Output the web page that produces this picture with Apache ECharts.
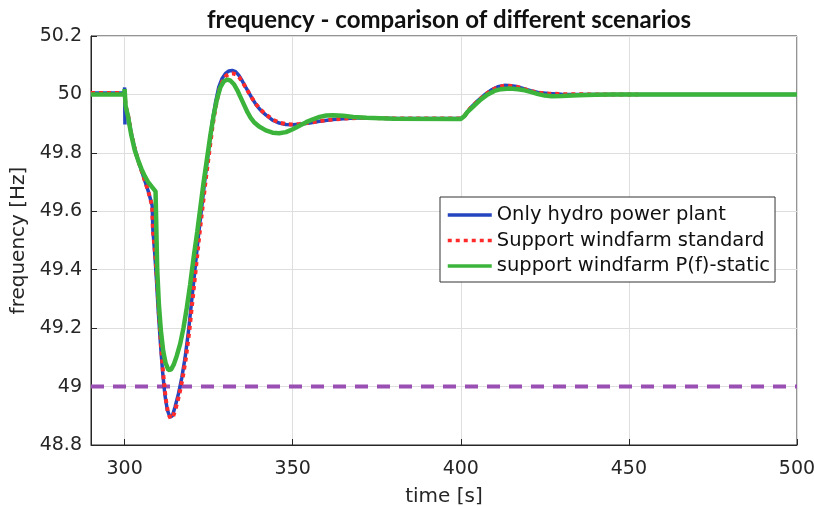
<!DOCTYPE html>
<html><head><meta charset="utf-8">
<script src="https://cdn.jsdelivr.net/npm/echarts@6/dist/echarts.min.js"></script>
<style>html,body{margin:0;padding:0;background:#fff}#c{width:814px;height:506px}</style>
</head><body><div id="c"></div>
<script>
const xTicks = [300, 350, 400, 450, 500];
const seriesNames = ['Only hydro power plant', 'Support windfarm standard', 'support windfarm P(f)-static'];

const hydroT = [290, 299.9, 300, 300.1, 300.2, 301, 302, 303, 304, 305, 306, 307, 308.2, 308.4, 309, 309.5, 310, 310.7, 311.3, 312, 312.7, 313.5, 314.2, 315, 316, 317, 318, 319, 320, 321, 322, 323, 324, 325, 326, 327, 328, 329, 330, 331, 332, 333, 334, 335, 336, 337, 338, 339, 340, 341, 342, 344, 346, 348, 350, 352, 355, 358, 362, 366, 370, 380, 400, 401, 402, 403, 405, 407, 409, 411, 413, 415, 417, 419, 421, 423, 426, 430, 440, 500];
const hydroF = [50.005, 50.005, 50.024, 49.897, 49.96, 49.93, 49.865, 49.815, 49.775, 49.74, 49.705, 49.67, 49.62, 49.537, 49.45, 49.36, 49.26, 49.14, 49.05, 48.97, 48.92, 48.895, 48.9, 48.93, 48.975, 49.03, 49.1, 49.19, 49.3, 49.41, 49.52, 49.62, 49.72, 49.81, 49.9, 49.97, 50.025, 50.055, 50.072, 50.08, 50.082, 50.078, 50.065, 50.046, 50.025, 50.005, 49.985, 49.967, 49.952, 49.94, 49.93, 49.912, 49.902, 49.897, 49.896, 49.898, 49.902, 49.908, 49.914, 49.918, 49.92, 49.918, 49.918, 49.925, 49.94, 49.955, 49.978, 49.998, 50.015, 50.026, 50.031, 50.03, 50.026, 50.019, 50.012, 50.007, 50.003, 50.001, 50.0, 50.0];

const standardT = [290, 300, 300.3, 301, 302, 303, 304, 305, 306, 307, 308.2, 308.4, 309.2, 309.7, 310.2, 310.9, 311.5, 312.2, 312.9, 313.7, 314.4, 315.2, 316.2, 317.2, 318.2, 319.2, 320.2, 321.2, 322.2, 323.2, 324.2, 325.2, 326.2, 327.2, 328.2, 329.2, 330.2, 331.2, 332.2, 333.2, 334.2, 335.2, 336.2, 337.2, 338.2, 339.2, 340.2, 341.2, 342.2, 344.2, 346.2, 348.2, 350.2, 352, 355, 358, 362, 366, 370, 380, 400, 401, 402, 403, 405, 407, 409, 411, 413, 415, 417, 419, 421, 423, 426, 430, 440, 452.7];
const standardF = [50.005, 50.005, 49.96, 49.93, 49.865, 49.815, 49.775, 49.74, 49.705, 49.67, 49.617, 49.537, 49.44, 49.35, 49.25, 49.13, 49.04, 48.96, 48.91, 48.89, 48.897, 48.925, 48.97, 49.025, 49.095, 49.185, 49.295, 49.405, 49.515, 49.615, 49.715, 49.805, 49.895, 49.965, 50.018, 50.048, 50.064, 50.071, 50.072, 50.068, 50.057, 50.04, 50.02, 50.0, 49.982, 49.965, 49.951, 49.94, 49.93, 49.913, 49.903, 49.898, 49.897, 49.899, 49.903, 49.909, 49.914, 49.918, 49.92, 49.918, 49.918, 49.925, 49.94, 49.955, 49.977, 49.997, 50.014, 50.025, 50.03, 50.029, 50.025, 50.018, 50.011, 50.006, 50.003, 50.001, 50.0, 50.0];

const staticT = [290, 299.9, 300, 300.3, 301, 302, 303, 304, 305, 306, 307, 308, 309.2, 309.4, 309.7, 310.2, 310.8, 311.5, 312.2, 313, 313.8, 314.6, 315.5, 316.5, 317.5, 318.5, 319.5, 320.5, 321.6, 322.5, 323.5, 324.5, 325.5, 326.5, 327.5, 328.5, 329.5, 330.6, 331.5, 332.5, 333.5, 334.5, 335.5, 336.5, 337.5, 338.5, 340, 342, 344, 346, 348, 350, 352, 354, 356, 358, 360, 362, 365, 368, 372, 380, 400, 401, 402, 404, 406, 408, 410, 412, 414.5, 417, 419, 421, 423, 425, 427, 430, 435, 440, 445, 500];
const staticF = [50.0, 50.0, 50.018, 49.96, 49.925, 49.86, 49.81, 49.775, 49.745, 49.72, 49.7, 49.685, 49.668, 49.56, 49.4, 49.28, 49.19, 49.12, 49.08, 49.057, 49.058, 49.075, 49.105, 49.145, 49.2, 49.27, 49.35, 49.44, 49.53, 49.61, 49.7, 49.78, 49.86, 49.93, 49.985, 50.025, 50.045, 50.051, 50.047, 50.035, 50.015, 49.99, 49.965, 49.94, 49.92, 49.905, 49.89, 49.877, 49.869, 49.867, 49.871, 49.881, 49.893, 49.905, 49.915, 49.923, 49.928, 49.929, 49.927, 49.923, 49.92, 49.917, 49.916, 49.925, 49.94, 49.962, 49.983, 50.0, 50.012, 50.018, 50.02, 50.018, 50.014, 50.008, 50.001, 49.996, 49.994, 49.995, 49.997, 49.999, 50.0, 50.0];

const limitValue = 49.0;

function pairs(t, f) { return t.map((x, i) => [x, f[i]]); }

const FONT = 'DejaVu Sans';
const chart = echarts.init(document.getElementById('c'), null, {renderer: 'canvas'});
chart.setOption({
  animation: false,
  backgroundColor: '#ffffff',
  title: {
    text: 'frequency - comparison of different scenarios',
    left: 444, textAlign: 'center', top: 3,
    textStyle: {fontFamily: 'Lato', fontSize: 24, fontWeight: 'bold', color: '#111'}
  },
  grid: {left: 91, right: 17, top: 36, bottom: 61, show: true, borderColor: '#262626', borderWidth: 1, backgroundColor: 'transparent',
    outerBoundsMode: 'none', containLabel: false},
  legend: {
    orient: 'vertical', left: 440, top: 197,
    data: seriesNames.map(n => ({name: n, icon: 'inherit'})),
    backgroundColor: '#fff', borderColor: '#333', borderWidth: 1, borderRadius: 0,
    padding: [8, 5, 6, 6], itemGap: 5.5, itemWidth: 44, itemHeight: 18,
    itemStyle: {opacity: 0},
    lineStyle: {width: 3.5},
    textStyle: {fontFamily: FONT, fontSize: 19.5, lineHeight: 20, color: '#111', padding: [0, 0, 0, 0]}
  },
  xAxis: {
    type: 'value', min: 290, max: 500,
    name: 'time [s]', nameLocation: 'middle', nameGap: 42,
    nameTextStyle: {fontFamily: FONT, fontSize: 20, color: '#262626'},
    axisLine: {show: true, lineStyle: {color: '#262626'}},
    axisTick: {show: true, inside: true, length: 6, customValues: xTicks, lineStyle: {color: '#262626'}},
    axisLabel: {customValues: xTicks, fontFamily: FONT, fontSize: 19, color: '#262626', margin: 15},
    splitLine: {show: true, lineStyle: {color: '#dedede', width: 1}}
  },
  yAxis: {
    type: 'value', min: 48.8, max: 50.2, interval: 0.2,
    name: 'frequency [Hz]', nameLocation: 'middle', nameGap: 58,
    nameTextStyle: {fontFamily: FONT, fontSize: 20, color: '#262626'},
    axisLine: {show: true, lineStyle: {color: '#262626'}},
    axisTick: {show: true, inside: true, length: 6, lineStyle: {color: '#262626'}},
    axisLabel: {fontFamily: FONT, fontSize: 19, color: '#262626', margin: 9,
      formatter: v => String(Math.round(v * 10) / 10)},
    splitLine: {show: true, lineStyle: {color: '#dedede', width: 1}}
  },
  series: [
    {
      name: 'limit', type: 'line', data: [[290, limitValue], [500, limitValue]],
      showSymbol: false, symbol: 'none', silent: true, z: 1,
      lineStyle: {color: '#9a4fb3', width: 4, type: [13, 9]}
    },
    {
      name: seriesNames[0], type: 'line', data: pairs(hydroT, hydroF),
      showSymbol: false, symbol: 'none', z: 2,
      lineStyle: {color: '#2346c0', width: 3.5}, itemStyle: {color: '#2346c0'}
    },
    {
      name: seriesNames[1], type: 'line', data: pairs(standardT, standardF),
      showSymbol: false, symbol: 'none', z: 3,
      lineStyle: {color: '#ff2b2b', width: 4, type: [4, 4]}, itemStyle: {color: '#ff2b2b'}
    },
    {
      name: seriesNames[2], type: 'line', data: pairs(staticT, staticF),
      showSymbol: false, symbol: 'none', z: 4,
      lineStyle: {color: '#3cb43c', width: 4.5}, itemStyle: {color: '#3cb43c'}
    }
  ]
});
</script>
</body></html>
